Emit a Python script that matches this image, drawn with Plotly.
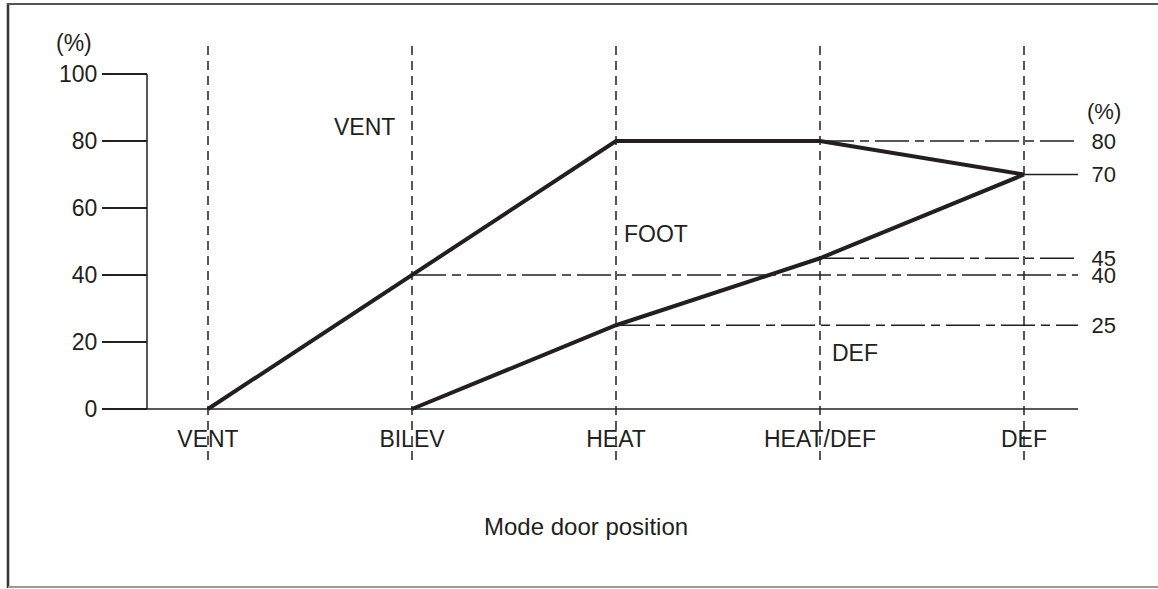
import plotly.graph_objects as go

# ---------------- data ----------------
positions = ["VENT", "BILEV", "HEAT", "HEAT/DEF", "DEF"]
vent_upper = [0, 40, 80, 80, 70]          # upper boundary (VENT / FOOT split)
def_lower_x = ["BILEV", "HEAT", "HEAT/DEF", "DEF"]
def_lower = [0, 25, 45, 70]               # lower boundary (FOOT / DEF split)
y_ticks = [0, 20, 40, 60, 80, 100]
ref_levels = [80, 70, 45, 40, 25]
ref_start = ["HEAT/DEF", "DEF", "HEAT/DEF", "BILEV", "HEAT"]
ref_style = ["dashdot", "solid", "dashdot", "dashdot", "dashdot"]
regions = ["VENT", "FOOT", "DEF"]

# ---------------- styling / layout constants ----------------
W, H = 1158, 589
INK = "#231f20"
FONT = "Liberation Sans, Arial, Helvetica, sans-serif"
FS = 23
X0_PX, DX_PX = 208, 204          # pixel of first category and category spacing
Y0_PX, DY_PX = 409, 3.35         # pixel of 0 % and px per %
idx = {p: i for i, p in enumerate(positions)}
YAXIS_X = (147 - X0_PX) / DX_PX  # y-axis position in category units
X_END = (1078 - X0_PX) / DX_PX   # right end of baseline/reference lines
V_TOP = (Y0_PX - 45) / DY_PX
V_BOT = (Y0_PX - 460) / DY_PX

xr = [-X0_PX / DX_PX, (W - X0_PX) / DX_PX]
yr = [-(H - Y0_PX) / DY_PX, Y0_PX / DY_PX]

fig = go.Figure()

# vertical dashed position lines
for p in positions:
    fig.add_trace(go.Scatter(x=[idx[p], idx[p]], y=[V_BOT, V_TOP], mode="lines",
                             line=dict(color=INK, width=1.5, dash="9px,6px"),
                             hoverinfo="skip", showlegend=False))

# reference lines to the right labels
for lv, st, sty in zip(ref_levels, ref_start, ref_style):
    dash = "solid" if sty == "solid" else "34px,6px,9px,6px"
    fig.add_trace(go.Scatter(x=[idx[st], X_END], y=[lv, lv], mode="lines",
                             line=dict(color=INK, width=1.5, dash=dash),
                             hoverinfo="skip", showlegend=False))

# y-axis line and baseline
fig.add_trace(go.Scatter(x=[YAXIS_X, YAXIS_X], y=[y_ticks[0], y_ticks[-1]], mode="lines",
                         line=dict(color=INK, width=1.5), hoverinfo="skip", showlegend=False))
fig.add_trace(go.Scatter(x=[YAXIS_X, X_END], y=[0, 0], mode="lines",
                         line=dict(color=INK, width=1.5), hoverinfo="skip", showlegend=False))

# main boundary lines
fig.add_trace(go.Scatter(x=[idx[p] for p in positions], y=vent_upper, mode="lines",
                         line=dict(color=INK, width=4), showlegend=False))
fig.add_trace(go.Scatter(x=[idx[p] for p in def_lower_x], y=def_lower, mode="lines",
                         line=dict(color=INK, width=4), showlegend=False))

# right axis trace (invisible) so yaxis2 renders
fig.add_trace(go.Scatter(x=[0], y=[0], yaxis="y2", mode="markers",
                         marker=dict(opacity=0), hoverinfo="skip", showlegend=False))

# region labels
region_pos = [((364 - X0_PX) / DX_PX, (Y0_PX - 127) / DY_PX),
              ((656 - X0_PX) / DX_PX, (Y0_PX - 234) / DY_PX),
              ((855 - X0_PX) / DX_PX, (Y0_PX - 353) / DY_PX)]
for t, (ax_, ay_) in zip(regions, region_pos):
    fig.add_annotation(x=ax_, y=ay_, text=t, showarrow=False,
                       xanchor="center", yanchor="middle",
                       font=dict(family=FONT, size=FS, color=INK))

# units labels and axis title
for txt, px, py, fs in [("(%)", 74, 43, FS), ("(%)", 1104, 111, 22),
                        ("Mode door position", 586, 526, 24)]:
    fig.add_annotation(x=px / W, y=1 - py / H, xref="paper", yref="paper", text=txt,
                       showarrow=False, xanchor="center", yanchor="middle",
                       font=dict(family=FONT, size=fs, color=INK))

# frame
fig.add_shape(type="line", xref="paper", yref="paper", x0=8 / W, x1=8 / W,
              y0=1 - 588 / H, y1=1 - 3 / H, line=dict(color="#333", width=2.5))
fig.add_shape(type="line", xref="paper", yref="paper", x0=7 / W, x1=1,
              y0=1 - 4 / H, y1=1 - 4 / H, line=dict(color="#555", width=2))
fig.add_shape(type="line", xref="paper", yref="paper", x0=8 / W, x1=1,
              y0=1 - 587 / H, y1=1 - 587 / H, line=dict(color="#999", width=2))

fig.update_layout(
    width=W, height=H, autosize=False,
    margin=dict(l=0, r=0, t=0, b=0),
    paper_bgcolor="white", plot_bgcolor="white",
    font=dict(family=FONT, size=FS, color=INK),
    xaxis=dict(domain=[0, 1], range=xr, tickmode="array", tickvals=list(range(len(positions))),
               ticktext=positions, showgrid=False, zeroline=False, showline=False,
               ticks="", anchor="free", position=1 - 423 / H,
               tickfont=dict(family=FONT, size=FS, color=INK)),
    yaxis=dict(domain=[0, 1], range=yr, tickmode="array", tickvals=y_ticks,
               showgrid=False, zeroline=False, showline=False,
               ticks="outside", ticklen=45, tickwidth=1.5, tickcolor=INK,
               anchor="free", position=147 / W,
               tickfont=dict(family=FONT, size=FS, color=INK)),
    yaxis2=dict(overlaying="y", side="right", range=yr, tickmode="array",
                tickvals=ref_levels, ticktext=[str(v) for v in ref_levels],
                showgrid=False, zeroline=False, showline=False,
                ticks="outside", ticklen=8, tickcolor="rgba(0,0,0,0)",
                anchor="free", position=1078 / W,
                tickfont=dict(family=FONT, size=22, color=INK)),
)

fig.write_html("out.html", config={"displayModeBar": False},
               post_script="document.body.style.margin='0px';document.body.style.overflow='hidden';")
